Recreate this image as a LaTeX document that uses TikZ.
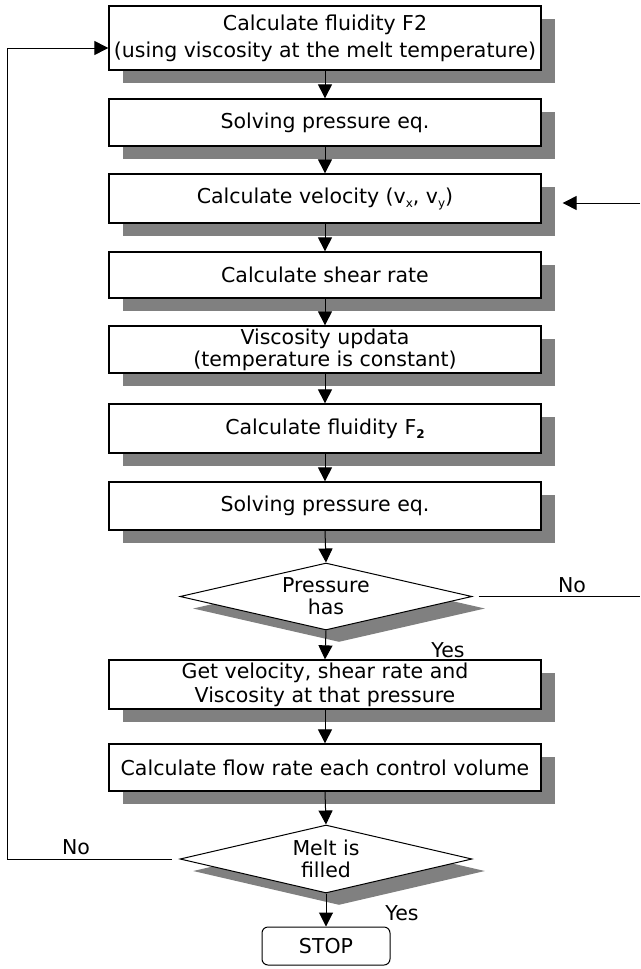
\documentclass[tikz,border=0pt]{standalone}
\usepackage{fontspec}
\setmainfont{DejaVu Sans}
\usetikzlibrary{shapes.geometric,shadows,arrows.meta,calc}
\definecolor{shadowgray}{HTML}{808080}
\newcommand\mysub[1]{\raisebox{-4pt}{\fontsize{12}{12}\selectfont #1}}
\begin{document}
\begin{tikzpicture}[x=1pt,y=-1pt,
  font=\fontsize{20.5}{22}\selectfont,
  shad/.style={drop shadow={shadow xshift=14pt, shadow yshift=-13pt, fill=shadowgray, opacity=1}},
  box/.style={draw=black, line width=1.3pt, fill=white, minimum width=432pt,
    inner sep=0pt, align=center, shad},
  dia/.style={diamond, draw=black, line width=1pt, fill=white, aspect=4.36,
    minimum width=292pt, inner sep=0pt, align=center,
    drop shadow={shadow xshift=13pt, shadow yshift=-12pt, fill=shadowgray, opacity=1}},
  stopbox/.style={draw=black, line width=1pt, rounded corners=6pt, fill=white,
    minimum width=128pt, minimum height=38pt, inner sep=0pt},
  lbl/.style={inner sep=0pt},
  arr/.style={-{Triangle[length=14pt,width=14pt]}, line width=1pt},
  ln/.style={line width=1pt}
]
\useasboundingbox (0,0) rectangle (640,969);

\node[box, minimum height=64pt, font=\fontsize{20.5}{27}\selectfont] (b1) at (325,38)
  {Calculate fluidity F2\\(using viscosity at the melt temperature)};
\node[box, minimum height=47pt] (b2) at (325,122.5) {Solving pressure eq.};
\node[box, minimum height=49pt] (b3) at (325,198.5)
  {Calculate velocity (v\mysub{x}, v\mysub{y})};
\node[box, minimum height=46pt] (b4) at (325,275) {Calculate shear rate};
\node[box, minimum height=47pt] (b5) at (325,349.5)
  {Viscosity updata\\(temperature is constant)};
\node[box, minimum height=49pt] (b6) at (325,428.5)
  {Calculate fluidity F\mysub{\bfseries 2}};
\node[box, minimum height=48pt] (b7) at (325,506) {Solving pressure eq.};
\node[dia, minimum height=67pt] (d1) at (326,596.5) {Pressure\\has};
\node[box, minimum height=49pt, font=\fontsize{20.5}{24}\selectfont] (b8) at (325,684.5)
  {Get velocity, shear rate and\\Viscosity at that pressure};
\node[box, minimum height=47pt] (b9) at (325,767.5)
  {Calculate flow rate each control volume};
\node[dia, minimum height=68pt] (d2) at (326,859) {Melt is\\filled};
\node[stopbox] (stop) at (326,946) {STOP};

% labels
\node[lbl] (no1) at (572,585) {No};
\node[lbl] (yes1) at (448,650) {Yes};
\node[lbl] (no2) at (76,847) {No};
\node[lbl] (yes2) at (402,913) {Yes};

% vertical flow
\draw[arr] (b1.south) -- (b2.north);
\draw[arr] (b2.south) -- (b3.north);
\draw[arr] (b3.south) -- (b4.north);
\draw[arr] (b4.south) -- (b5.north);
\draw[arr] (b5.south) -- (b6.north);
\draw[arr] (b6.south) -- (b7.north);
\draw[arr] (b7.south) -- (d1.north);
\draw[arr] (d1.south) -- (b8.north);
\draw[arr] (b8.south) -- (b9.north);
\draw[arr] (b9.south) -- (d2.north);
\draw[arr] (d2.south) -- (stop.north);

% side connectors
\coordinate (vin) at (640,203);
\draw[arr] (vin) -- ($(b3.east |- vin)+(21,0)$);
\coordinate (nout) at (640,596.5);
\draw[ln] ($(d1.east)+(6,0)$) -- (nout);
\coordinate (loopc) at (7,48);
\draw[arr] ($(d2.west)+(-8,0)$) -| (loopc) -- (b1.west |- loopc);
\end{tikzpicture}
\end{document}
